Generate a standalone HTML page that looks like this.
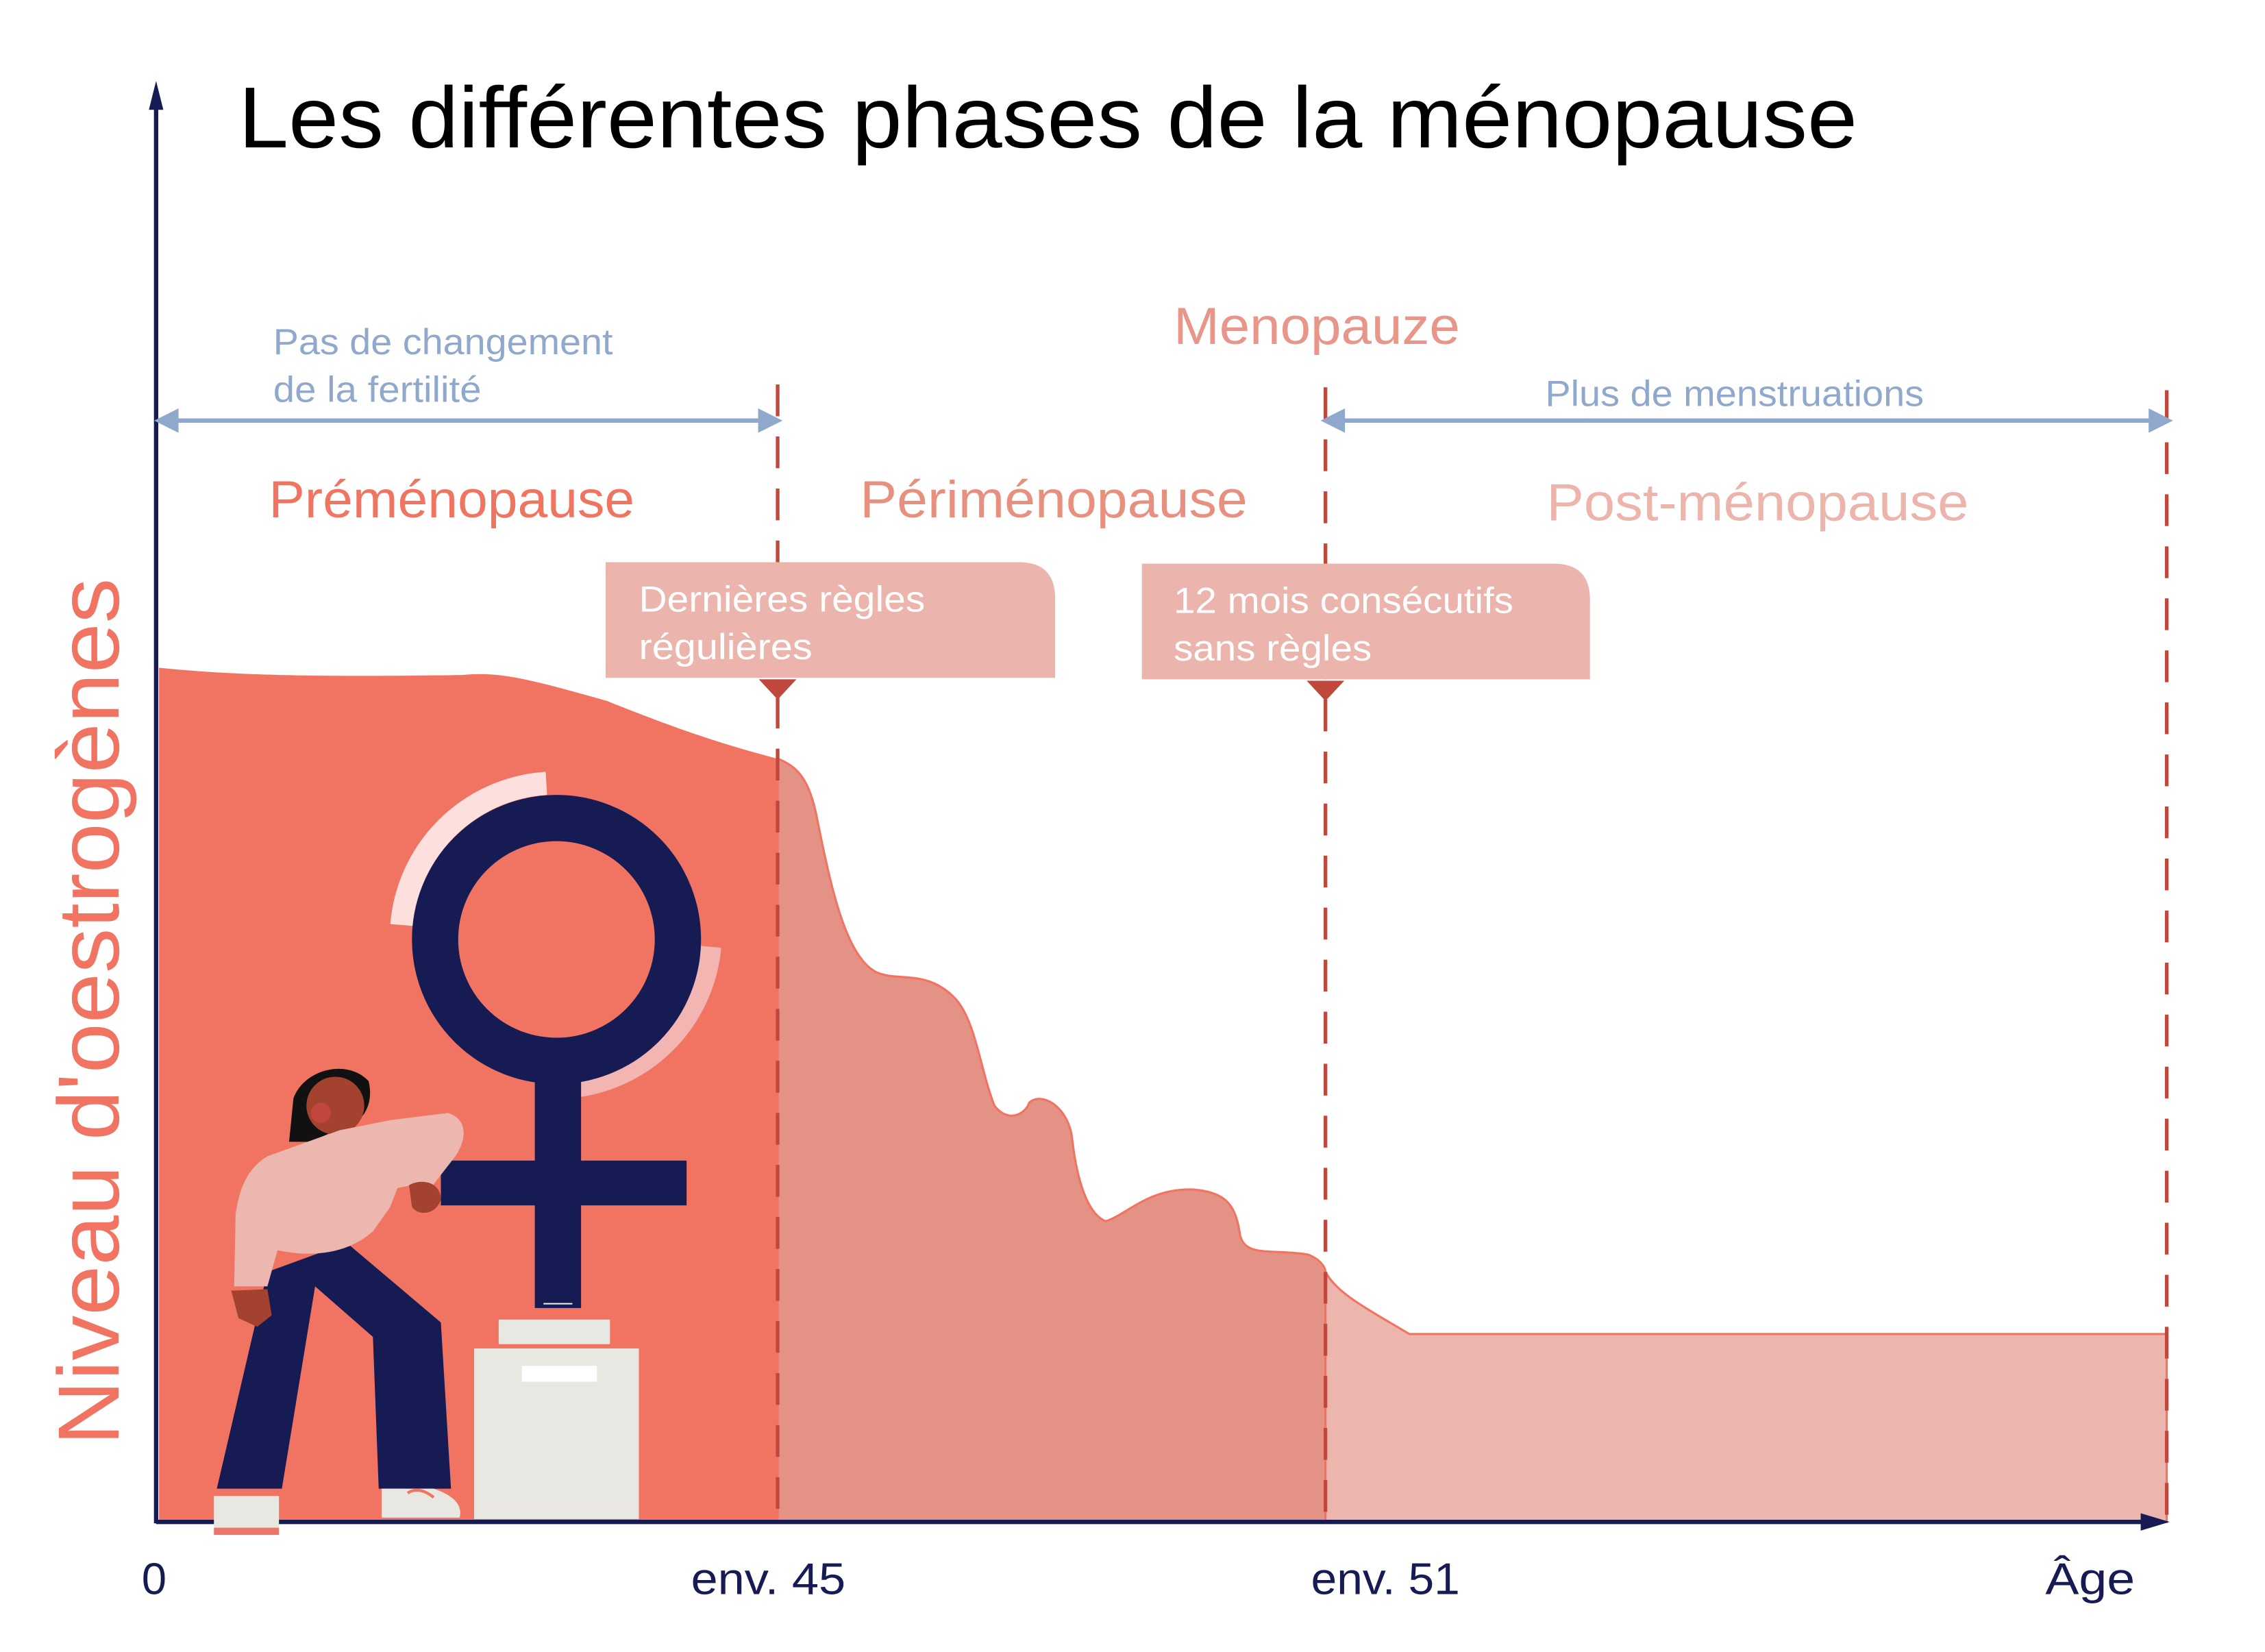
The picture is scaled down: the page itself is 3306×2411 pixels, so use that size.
<!DOCTYPE html>
<html><head><meta charset="utf-8"><style>html,body{margin:0;padding:0;background:#fff}svg{display:block}</style></head>
<body>
<svg width="3306" height="2411" viewBox="0 0 1567 1143" preserveAspectRatio="none" xmlns="http://www.w3.org/2000/svg" font-family="Liberation Sans, sans-serif">
<rect width="1567" height="1143" fill="#fff"/>
<path d="M110,462 C150,466 200,469 320,467 C345,465 360,468 420,485 C470,505 500,515 538,525 L538,1053 L110,1053 Z" fill="#f07461"/>
<path d="M538,525 C552,530 560,540 565,565 C575,615 585,660 605,672 C620,680 640,670 660,690 C675,705 678,740 688,765 C698,778 710,770 712,763 C720,755 740,765 742,790 C745,815 752,840 765,845 C780,840 795,822 825,823 C850,825 855,835 858,855 C862,870 880,864 905,868 C915,872 917,878 917,880 L917,1053 L538,1053 Z" fill="#e49286" stroke="#f07461" stroke-width="1.5"/>
<path d="M917,880 C925,895 945,905 975,923 L1499,923 L1499,1053 L917,1053 Z" fill="#ecb5ae" stroke="#f07461" stroke-width="1.5"/>
<g stroke="#c0473b" stroke-width="2.5" stroke-dasharray="22,14">
<line x1="538" y1="266" x2="538" y2="1053"/>
<line x1="917" y1="268" x2="917" y2="1053"/>
<line x1="1499" y1="270" x2="1499" y2="1053"/>
</g>
<line x1="108" y1="68" x2="108" y2="1054" stroke="#161b54" stroke-width="3"/>
<polygon points="108,56 103,76 113,76" fill="#161b54"/>
<line x1="108" y1="1053" x2="1488" y2="1053" stroke="#161b54" stroke-width="3"/>
<polygon points="1501,1053 1481,1047 1481,1059" fill="#161b54"/>
<text x="165" y="102" font-size="60" fill="#000" textLength="1120" lengthAdjust="spacingAndGlyphs">Les différentes phases de la ménopause</text>
<g fill="#8fa8cc" font-size="25">
<text x="189" y="245" textLength="235" lengthAdjust="spacingAndGlyphs">Pas de changement</text>
<text x="189" y="278" textLength="144" lengthAdjust="spacingAndGlyphs">de la fertilité</text>
<text x="1069" y="281" textLength="262" lengthAdjust="spacingAndGlyphs">Plus de menstruations</text>
</g>
<g stroke="#8fa8cc" stroke-width="3" fill="#8fa8cc">
<line x1="118" y1="291" x2="528" y2="291"/>
<polygon points="110,291 122,285 122,297"/><polygon points="538,291 526,285 526,297"/>
<line x1="927" y1="291" x2="1490" y2="291"/>
<polygon points="917,291 929,285 929,297"/><polygon points="1500,291 1488,285 1488,297"/>
</g>
<text x="812" y="238" font-size="36" fill="#e8958a" textLength="198" lengthAdjust="spacingAndGlyphs">Menopauze</text>
<text x="186" y="358" font-size="36" fill="#f07561" textLength="253" lengthAdjust="spacingAndGlyphs">Préménopause</text>
<text x="595" y="358" font-size="36" fill="#e8907f" textLength="268" lengthAdjust="spacingAndGlyphs">Périménopause</text>
<text x="1070" y="360" font-size="36" fill="#ecb4aa" textLength="292" lengthAdjust="spacingAndGlyphs">Post-ménopause</text>
<path d="M419,389 L705,389 Q730,389 730,414 L730,469 L419,469 Z" fill="#ebb5ad"/>
<polygon points="525,470 551,470 538,484" fill="#c0473b"/>
<path d="M790,390 L1075,390 Q1100,390 1100,415 L1100,470 L790,470 Z" fill="#ebb5ad"/>
<polygon points="904,471 930,471 917,485" fill="#c0473b"/>
<g fill="#fff" font-size="25">
<text x="442" y="423" textLength="198" lengthAdjust="spacingAndGlyphs">Dernières règles</text>
<text x="442" y="456" textLength="120" lengthAdjust="spacingAndGlyphs">régulières</text>
<text x="812" y="424" textLength="235" lengthAdjust="spacingAndGlyphs">12 mois consécutifs</text>
<text x="812" y="457" textLength="137" lengthAdjust="spacingAndGlyphs">sans règles</text>
</g>
<g fill="#161b54" font-size="31">
<text x="98" y="1103">0</text>
<text x="478" y="1103" textLength="107" lengthAdjust="spacingAndGlyphs">env. 45</text>
<text x="907" y="1103" textLength="103" lengthAdjust="spacingAndGlyphs">env. 51</text>
<text x="1415" y="1103" textLength="62" lengthAdjust="spacingAndGlyphs">Âge</text>
</g>
<text transform="translate(82,1000) rotate(-90)" font-size="60" fill="#f07461" textLength="600" lengthAdjust="spacingAndGlyphs">Niveau d'oestrogènes</text>
<path d="M278,640 A107,107 0 0 1 378,542" fill="none" stroke="#fde0dd" stroke-width="16"/>
<path d="M491,655 A107,107 0 0 1 392,752" fill="none" stroke="#f2b5b1" stroke-width="16"/>
<circle cx="385" cy="650" r="84" fill="none" stroke="#161b54" stroke-width="32"/>
<rect x="370" y="735" width="32" height="170" fill="#161b54"/>
<rect x="305" y="803" width="170" height="31" fill="#161b54"/>
<line x1="376" y1="902" x2="396" y2="902" stroke="#e9e7e2" stroke-width="1"/>
<rect x="345" y="913" width="77" height="17" fill="#e9e7e2"/>
<rect x="328" y="933" width="114" height="118" fill="#e9e7e2"/>
<rect x="361" y="945" width="52" height="11" fill="#fff"/>
<path d="M203,760 C210,740 240,732 255,748 C258,760 254,770 248,775 L215,790 L200,790 Z" fill="#111"/>
<circle cx="232" cy="765" r="20" fill="#a3432f"/>
<circle cx="222" cy="770" r="7" fill="#c0473b"/>
<path d="M195,1030 L150,1030 L185,880 L240,860 L305,915 L312,1030 L262,1030 L258,925 L218,890 Z" fill="#161b54"/>
<path d="M185,800 L235,782 L270,775 L310,770 C325,775 322,790 315,800 L298,822 L285,820 L275,822 L270,835 L258,852 C240,868 215,870 192,865 L185,890 L162,890 L163,840 C166,820 172,808 185,800 Z" fill="#ecb7ae"/>
<path d="M283,820 C292,815 305,818 305,830 C302,840 290,842 285,835 Z" fill="#a3432f"/>
<path d="M160,893 L185,892 L188,910 L178,918 L165,912 Z" fill="#a3432f"/>
<path d="M148,1035 L193,1035 L193,1062 L148,1062 Z" fill="#e9e7e2"/>
<rect x="148" y="1057" width="45" height="5" fill="#e8786a"/>
<path d="M264,1030 L300,1030 C315,1035 320,1042 318,1050 L264,1050 Z" fill="#e9e7e2"/>
<path d="M282,1033 Q290,1028 300,1036" fill="none" stroke="#f07461" stroke-width="2"/>
</svg>
</body></html>
